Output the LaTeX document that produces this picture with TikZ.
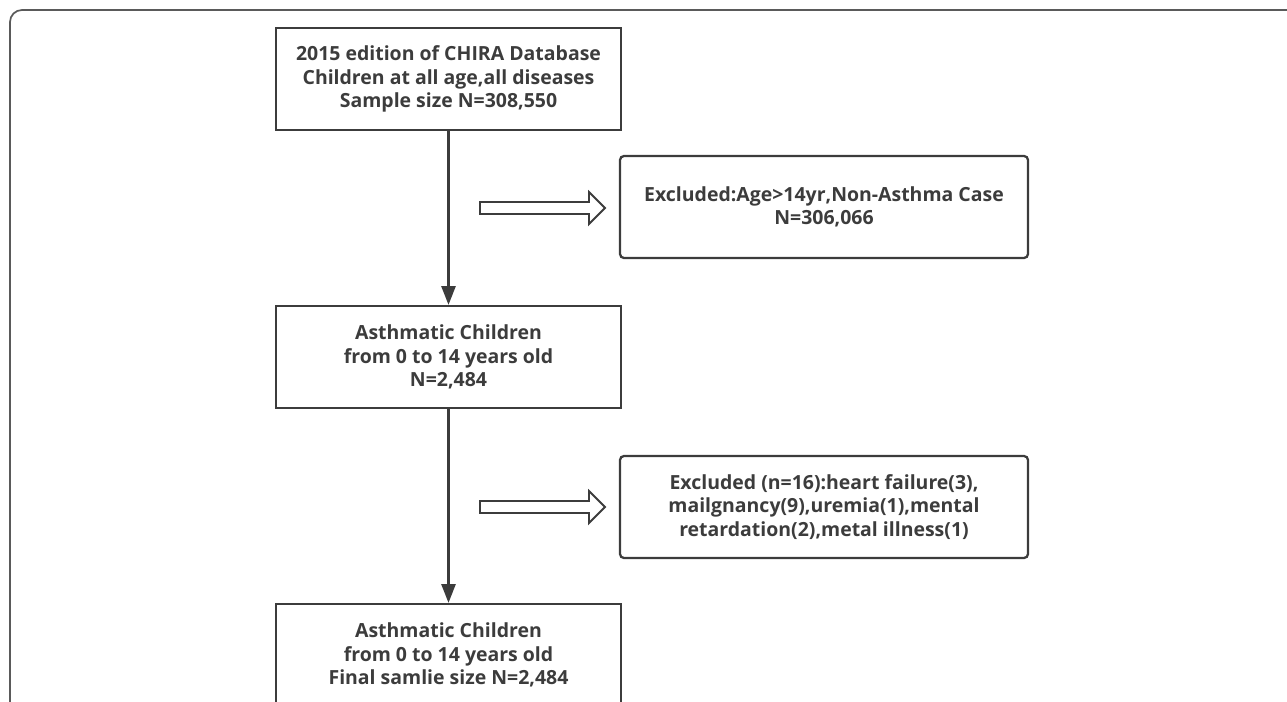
\documentclass[tikz,border=0pt]{standalone}
\usepackage{fontspec}
\setmainfont{Open Sans}
\usetikzlibrary{arrows.meta,shapes.arrows}
\definecolor{ink}{HTML}{3C3C3C}
\definecolor{frame}{HTML}{5A5A5A}
\tikzset{
  x=0.75pt,y=-0.75pt,
  base/.style={draw=ink,line width=1.7pt,align=center,inner sep=0pt,
    font=\fontsize{14.6pt}{17.4pt}\selectfont\bfseries,text=ink},
  mainbox/.style={base,minimum width=258.75pt,minimum height=76.5pt},
  exbox/.style={base,rounded corners=3pt,minimum width=306pt,minimum height=76.5pt},
  flow/.style={draw=ink,line width=1.7pt,-{Triangle[length=14pt,width=10.5pt]}},
  hollow/.style={single arrow,draw=ink,line width=1.4pt,fill=white,
    minimum height=93.75pt,minimum width=23pt,inner xsep=0pt,inner ysep=3.8pt,
    single arrow head extend=7.5pt,single arrow tip angle=90}
}
\begin{document}
\begin{tikzpicture}
\useasboundingbox (0,0) rectangle (1287,701);
\clip (0,0) rectangle (1287,701);
\draw[frame,line width=1.3pt,rounded corners=9pt] (10,720) coordinate (fl) -- (10,10) -- (1300,10) coordinate (fr);
\node[mainbox] (b1) at (448.5,79) {2015 edition of CHIRA Database\\Children at all age,all diseases\\Sample size N=308,550};
\node[mainbox] (b2) at (448.5,357) {Asthmatic Children\\from 0 to 14 years old\\N=2,484};
\node[mainbox] (b3) at (448.5,655) {Asthmatic Children\\from 0 to 14 years old\\Final samlie size N=2,484};
\node[exbox] (e1) at (824,207) {Excluded:Age>14yr,Non-Asthma Case\\N=306,066};
\node[exbox] (e2) at (824,507) {Excluded (n=16):heart failure(3),\\mailgnancy(9),uremia(1),mental\\retardation(2),metal illness(1)};
\node[hollow] (h1) at (539.5,208) {};
\node[hollow] (h2) at (539.5,507) {};
\draw[flow] (b1) -- (b2);
\draw[flow] (b2) -- (b3);
\end{tikzpicture}
\end{document}
